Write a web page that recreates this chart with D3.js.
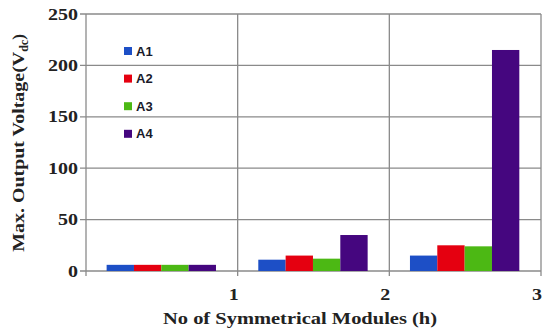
<!DOCTYPE html>
<meta charset="utf-8">
<style>
body { margin: 0; background: #fff; }
.grid line { stroke: #8a8a8a; stroke-width: 1.3; }
.axis text { font-family: "Liberation Serif", "Times New Roman", serif; font-weight: bold; font-size: 16px; fill: #222; }
.legend text { font-family: "Liberation Sans", Arial, sans-serif; font-weight: bold; font-size: 13px; fill: #1a1a2a; }
.title { font-family: "Liberation Serif", "Times New Roman", serif; font-weight: bold; font-size: 17px; fill: #222; }
</style>
<svg width="550" height="332"></svg>
<script src="https://d3js.org/d3.v7.min.js"></script>
<script>

var modules = ["1", "2", "3"];
var series = ["A1", "A2", "A3", "A4"];
var colors = ["#1d4fc6", "#e50010", "#4cb814", "#45067f"];
var A1 = [6, 11, 15];
var A2 = [6, 15, 25];
var A3 = [6, 12, 24];
var A4 = [6, 35, 215];
var yTicks = [0, 50, 100, 150, 200, 250];

var values = [A1, A2, A3, A4];

var svg = d3.select("svg"),
    margin = {top: 14, right: 9, bottom: 61, left: 86},
    width = +svg.attr("width") - margin.left - margin.right,
    height = +svg.attr("height") - margin.top - margin.bottom;

var g = svg.append("g").attr("transform", "translate(" + margin.left + "," + margin.top + ")");

var x0 = d3.scaleBand().domain(modules).range([0, width]).padding(0);
var x1 = d3.scaleBand().domain(series)
    .range([x0.bandwidth() * 0.136, x0.bandwidth() * 0.857]).padding(0);
var y = d3.scaleLinear().domain([0, 250]).range([height, 0]);

// grid
var grid = g.append("g").attr("class", "grid");
grid.selectAll(".h").data(yTicks).enter().append("line")
    .attr("x1", -6).attr("x2", width)
    .attr("y1", function(d) { return y(d); }).attr("y2", function(d) { return y(d); });
grid.append("line").attr("x1", 0).attr("x2", 0).attr("y1", 0).attr("y2", height + 5);
grid.selectAll(".v").data(modules).enter().append("line")
    .attr("x1", function(d) { return x0(d) + x0.bandwidth(); })
    .attr("x2", function(d) { return x0(d) + x0.bandwidth(); })
    .attr("y1", 0).attr("y2", height + 5);

// bars
var groups = g.selectAll(".grp").data(modules).enter().append("g")
    .attr("transform", function(d) { return "translate(" + x0(d) + ",0)"; });
groups.selectAll("rect")
    .data(function(d, i) { return series.map(function(s, j) { return {s: s, v: values[j][i], c: colors[j]}; }); })
    .enter().append("rect")
    .attr("x", function(d) { return x1(d.s); })
    .attr("width", x1.bandwidth())
    .attr("y", function(d) { return y(d.v); })
    .attr("height", function(d) { return height - y(d.v); })
    .attr("fill", function(d) { return d.c; });

// axis labels (the original is stretched a bit horizontally)
var ax = g.append("g").attr("class", "axis");
ax.selectAll(".yl").data(yTicks).enter().append("text")
    .attr("x", -8).attr("y", function(d) { return y(d); }).attr("dy", "0.35em")
    .attr("text-anchor", "end")
    .attr("textLength", function(d) { return String(d).length * 10; })
    .attr("lengthAdjust", "spacingAndGlyphs")
    .text(function(d) { return d; });
ax.selectAll(".xl").data(modules).enter().append("text")
    .attr("x", function(d) { return x0(d) + x0.bandwidth() - 4; })
    .attr("y", height + 29).attr("text-anchor", "middle")
    .attr("textLength", 10).attr("lengthAdjust", "spacingAndGlyphs")
    .text(function(d) { return d; });

svg.append("text").attr("class", "title")
    .attr("x", 300).attr("y", 324).attr("text-anchor", "middle")
    .attr("textLength", 274).attr("lengthAdjust", "spacingAndGlyphs")
    .text("No of Symmetrical Modules (h)");

var yt = svg.append("text").attr("class", "title")
    .attr("transform", "translate(24,143) rotate(-90)")
    .attr("text-anchor", "middle");
yt.append("tspan").attr("textLength", 200).attr("lengthAdjust", "spacingAndGlyphs").text("Max. Output Voltage(V");
yt.append("tspan").attr("font-size", "12px").attr("dy", 4).text("dc");
yt.append("tspan").attr("dy", -4).text(")");

// legend
var lg = svg.append("g").attr("class", "legend");
var leg = lg.selectAll("g").data(series).enter().append("g")
    .attr("transform", function(d, i) { return "translate(124," + (47 + i * 27.6) + ")"; });
leg.append("rect").attr("width", 8).attr("height", 8)
    .attr("fill", function(d, i) { return colors[i]; });
leg.append("text").attr("x", 12).attr("y", 4).attr("dy", "0.35em").text(function(d) { return d; });

</script>
